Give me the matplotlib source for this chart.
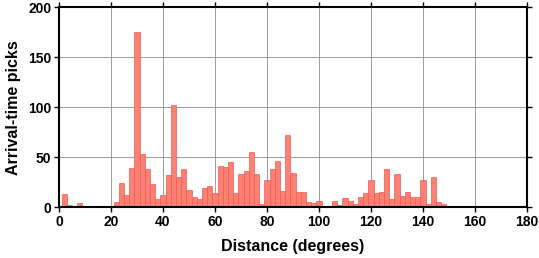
import numpy as np
import matplotlib
matplotlib.use("Agg")
import matplotlib.pyplot as plt

# 2-degree bins centred on even distances
centers = np.arange(0, 162, 2)
counts = [1, 13, 2, 0, 4, 0, 0, 0, 0, 0,
          1, 5, 24, 12, 39, 175, 53, 38, 23, 8,
          12, 32, 102, 30, 38, 17, 10, 8, 19, 21,
          14, 41, 40, 45, 14, 33, 36, 55, 33, 3,
          27, 38, 46, 16, 72, 34, 15, 15, 5, 4,
          6, 0, 0, 6, 2, 9, 6, 3, 10, 14,
          27, 14, 15, 38, 8, 33, 11, 15, 10, 10,
          27, 3, 30, 5, 3, 1, 0, 0, 0, 0,
          1]

xticks = list(range(0, 181, 20))
yticks = list(range(0, 201, 50))

plt.rcParams['font.family'] = ['Liberation Sans', 'DejaVu Sans']
plt.rcParams['font.weight'] = 'bold'

fig = plt.figure(figsize=(5.39, 2.58), dpi=100)
ax = fig.add_axes([0.1095, 0.1965, 0.868, 0.775])

ax.grid(True, color='#8c8c8c', linewidth=0.6, zorder=0)
ax.set_axisbelow(True)
ax.bar(centers, counts, width=2, color='#FC8074', edgecolor='#EE5A52',
       linewidth=0.5, zorder=2)

ax.set_xlim(0, 180)
ax.set_ylim(0, 200)
ax.set_xticks(xticks)
ax.set_yticks(yticks)
ax.tick_params(direction='out', length=3.5, width=1, labelsize=10,
               top=True, right=True, pad=2)
for s in ax.spines.values():
    s.set_linewidth(1.5)

ax.set_xlabel('Distance (degrees)', fontsize=11.5, fontweight='bold', labelpad=7)
ax.set_ylabel('Arrival-time picks', fontsize=11.5, fontweight='bold', labelpad=5)

fig.savefig('out.png', dpi=100)
